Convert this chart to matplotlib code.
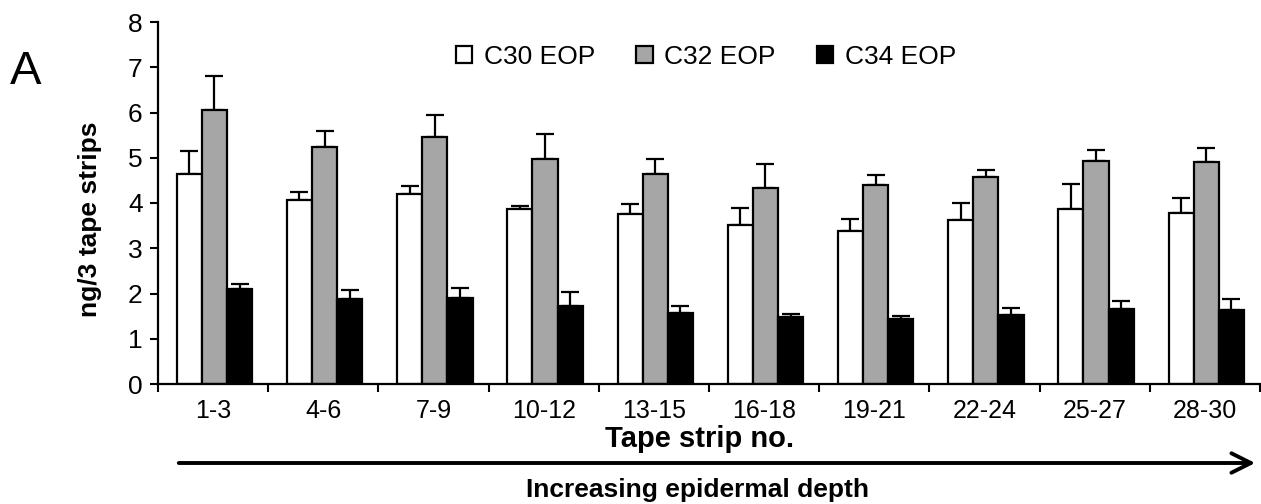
import matplotlib
matplotlib.use("Agg")
import matplotlib.pyplot as plt
from matplotlib.patches import FancyArrowPatch
import numpy as np

plt.rcParams['font.family'] = ['Liberation Sans', 'DejaVu Sans']

categories = ["1-3", "4-6", "7-9", "10-12", "13-15", "16-18", "19-21", "22-24", "25-27", "28-30"]
series_names = ["C30 EOP", "C32 EOP", "C34 EOP"]
c30 = [4.63, 4.07, 4.20, 3.87, 3.76, 3.51, 3.39, 3.62, 3.86, 3.77]
c30_err = [0.53, 0.18, 0.18, 0.07, 0.22, 0.39, 0.26, 0.39, 0.57, 0.33]
c32 = [6.05, 5.23, 5.46, 4.97, 4.65, 4.34, 4.40, 4.57, 4.93, 4.90]
c32_err = [0.76, 0.37, 0.49, 0.55, 0.32, 0.53, 0.21, 0.17, 0.24, 0.32]
c34 = [2.11, 1.88, 1.91, 1.72, 1.58, 1.48, 1.44, 1.53, 1.66, 1.63]
c34_err = [0.11, 0.20, 0.22, 0.31, 0.14, 0.07, 0.07, 0.14, 0.17, 0.25]

colors = ["white", "#a6a6a6", "black"]
W, H = 1261, 504
fig = plt.figure(figsize=(W / 100, H / 100), dpi=100)
ax = fig.add_axes([158 / W, 1 - 384 / H, 1102 / W, (384 - 22) / H])

x = np.arange(len(categories))
bw = 0.228
handles = []
for i, (vals, errs, col, name) in enumerate(zip([c30, c32, c34], [c30_err, c32_err, c34_err],
                                                 colors, series_names)):
    pos = x + (i - 1) * bw + 0.012
    b = ax.bar(pos, vals, bw, color=col, edgecolor="black", linewidth=1.6, label=name, zorder=2)
    ax.errorbar(pos, vals, yerr=[np.zeros(len(vals)), errs], fmt="none", ecolor="black",
                elinewidth=1.6, capsize=6.5, capthick=1.6, zorder=1)
    handles.append(b)

ax.set_xlim(-0.5, len(categories) - 0.5)
ax.set_ylim(0, 8)
ax.set_yticks(range(0, 9))
ax.tick_params(axis="y", labelsize=19, length=6, width=1.5, direction="out", pad=5)
ax.set_xticks(x)
ax.set_xticklabels(categories, fontsize=18)
ax.tick_params(axis="x", length=0, pad=11)
ax.set_xticks(np.arange(-0.5, len(categories)), minor=True)
ax.tick_params(axis="x", which="minor", length=6, width=1.5, direction="out")
for s in ["top", "right"]:
    ax.spines[s].set_visible(False)
for s in ["left", "bottom"]:
    ax.spines[s].set_linewidth(1.6)

fig.text(90 / W, 1 - 219 / H, "ng/3 tape strips", fontsize=19, fontweight="bold",
         rotation=90, ha="center", va="center")
fig.text(700 / W, 1 - 447 / H, "Tape strip no.", fontsize=21, fontweight="bold",
         ha="center", va="baseline")

fig.legend(handles=handles, labels=series_names, loc="center", bbox_to_anchor=(706 / W, 1 - 57 / H),
           ncol=3, frameon=False, fontsize=19, handlelength=0.62, handleheight=0.62,
           handletextpad=0.45, columnspacing=1.55)

fig.text(26 / W, 1 - 84 / H, "A", fontsize=34, ha="center", va="baseline")

fig.patches.append(FancyArrowPatch(
    (176 / W, 1 - 463 / H), (1258 / W, 1 - 463 / H), transform=fig.transFigure,
    arrowstyle="->,head_length=14,head_width=7", color="black", linewidth=2.8))
fig.text(698 / W, 1 - 497 / H, "Increasing epidermal depth", fontsize=19, fontweight="bold",
         ha="center", va="baseline")

fig.savefig("out.png", dpi=100)
